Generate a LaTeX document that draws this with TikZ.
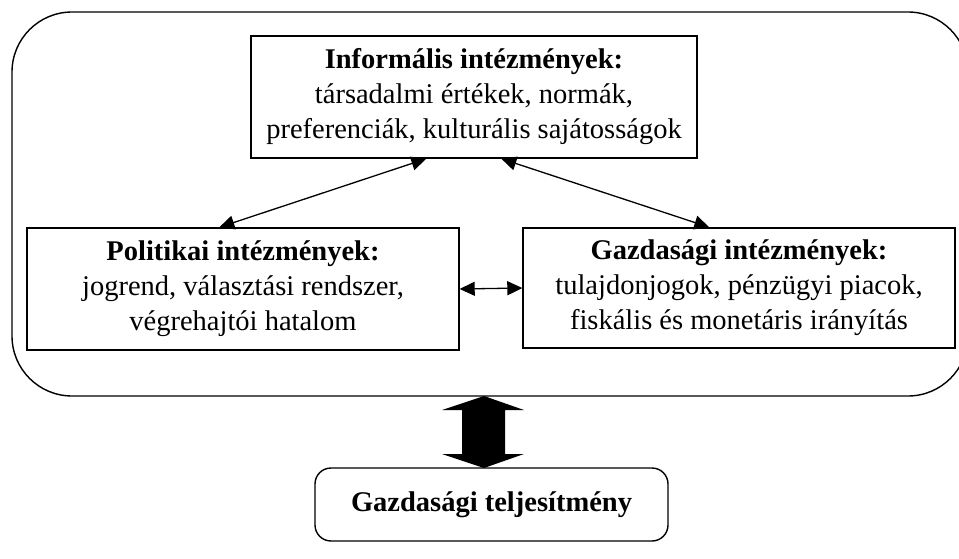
\documentclass[tikz,border=0pt]{standalone}
\usepackage{fontspec}
\setmainfont{Liberation Serif}
\usetikzlibrary{arrows.meta}
\begin{document}
\begin{tikzpicture}[x=1pt,y=-1pt,
  box/.style={draw,line width=1.4pt,align=center,inner sep=0pt,
    font=\fontsize{28.5}{35}\selectfont},
  link/.style={line width=1.3pt,{Triangle[length=15pt,width=14pt]}-{Triangle[length=15pt,width=14pt]}}]
\useasboundingbox (0,0) rectangle (959,559);
\begin{scope}
\clip (0,0) rectangle (959,559);
\draw[line width=1.4pt,rounded corners=60pt] (12,12) rectangle (968,396);
\end{scope}
\node[box,minimum width=446pt,minimum height=122pt] (top) at (474,97)
  {\textbf{Informális intézmények:}\\társadalmi értékek, normák,\\preferenciák, kulturális sajátosságok};
\node[box,minimum width=432pt,minimum height=122pt] (left) at (243,289)
  {\textbf{Politikai intézmények:}\\jogrend, választási rendszer,\\végrehajtói hatalom};
\node[box,minimum width=432pt,minimum height=120pt] (right) at (739,288)
  {\textbf{Gazdasági intézmények:}\\tulajdonjogok, pénzügyi piacok,\\fiskális és monetáris irányítás};
\node[box,rounded corners=16pt,minimum width=353pt,minimum height=73pt] (bottom) at (491.5,504.5)
  {\textbf{Gazdasági teljesítmény}};
\draw[link] ([xshift=176pt]top.south west) -- ([xshift=193pt]left.north west);
\draw[link] ([xshift=251pt]top.south west) -- ([xshift=187pt]right.north west);
\draw[link] (left.east) -- (right.west);
\fill (484,396) -- (524,410) -- (505,410) -- (505,454) -- (524,454) -- (484,468)
  -- (442,454) -- (462,454) -- (462,410) -- (442,410) -- cycle;
\end{tikzpicture}
\end{document}
